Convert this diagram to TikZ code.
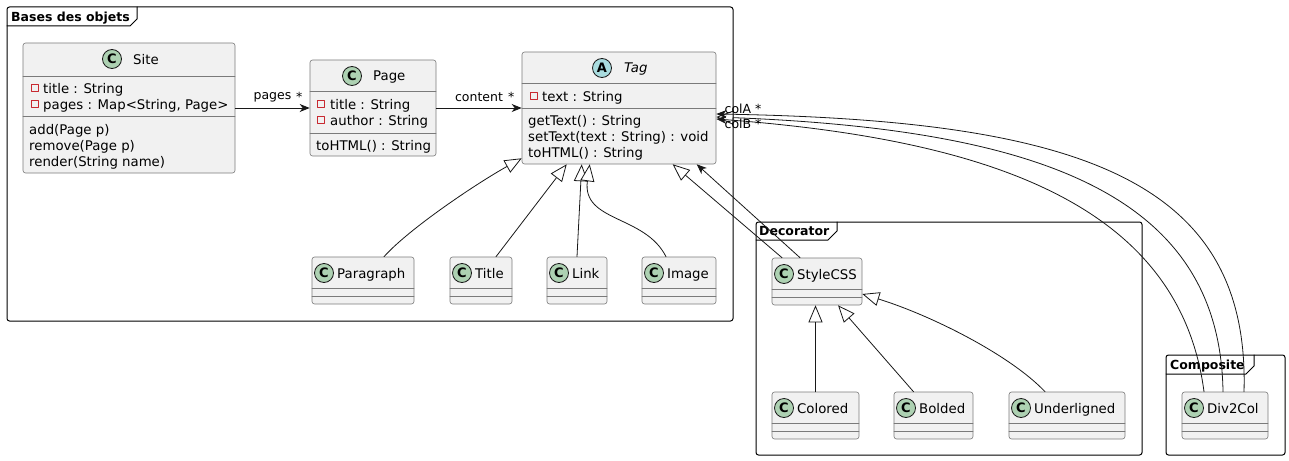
\documentclass[tikz,border=0pt]{standalone}
\usepackage{fontspec}
\setmainfont{DejaVu Sans}
\usetikzlibrary{arrows.meta,fit}
\definecolor{umlfill}{HTML}{F1F1F1}
\definecolor{umlline}{HTML}{181818}
\definecolor{umlborder}{HTML}{7A7A7A}
\definecolor{circC}{HTML}{ADD1B2}
\definecolor{circA}{HTML}{A9DCDF}
\definecolor{privred}{HTML}{C82930}
\begin{document}
\begin{tikzpicture}[x=1pt, y=-1pt, font=\fontsize{13.3}{16}\selectfont, line join=round, line cap=round,
	cls/.style={draw=umlborder, fill=umlfill, line width=0.6pt, rounded corners=2.5pt, inner sep=0pt},
	clssep/.style={draw=umlborder, line width=0.6pt},
	circ/.style={circle, draw=umlline, line width=0.8pt, fill=circC, minimum size=19pt, inner sep=0pt, font=\fontsize{13}{13}\selectfont\bfseries},
	txt/.style={anchor=base west, inner sep=0pt},
	priv/.style={draw=privred, line width=0.7pt, minimum size=7pt, inner sep=0pt},
	pkg/.style={draw=black, line width=1pt, rounded corners=2.5pt, inner sep=0pt},
	pkgname/.style={anchor=base west, inner sep=0pt, font=\fontsize{12.5}{14}\selectfont\bfseries},
	lbl/.style={inner sep=2pt, font=\fontsize{12.5}{14}\selectfont},
	assoc/.style={draw=umlline, line width=0.8pt, -{Stealth[length=10pt, width=8pt, inset=3pt]}},
	inherit/.style={draw=umlline, line width=0.8pt, -{Triangle[length=17pt, width=14pt, fill=white]}}]
	\useasboundingbox (0,0) rectangle (1289,460);
	% packages
	\node[pkg, fit={(7,7) (733,321)}] (bases) {};
	\draw[line width=1pt] (7,26) -- (130,26) -- (137,19) -- (137,7);
	\node[pkgname] (bases-n) at (11,21.5) {Bases des objets};
	\node[pkg, fit={(756,222) (1142,455)}] (deco) {};
	\draw[line width=1pt] (756,240) -- (828,240) -- (837,231) -- (837,222);
	\node[pkgname] (deco-n) at (759,235.5) {Decorator};
	\node[pkg, fit={(1166,355) (1285,455)}] (comp) {};
	\draw[line width=1pt] (1166,374) -- (1246,374) -- (1254,366) -- (1254,355);
	\node[pkgname] (comp-n) at (1170,369.5) {Composite};
	% Site
	\node[cls, fit={(23,43) (235,173)}] (site) {};
	\draw[clssep] (23,76) -- (235,76) (23,116) -- (235,116);
	\node[circ] (site-c) at (112,59) {C};
	\node[txt] (site-n) at (133,64) {Site};
	\foreach \y/\m [count=\i] in {88/title : String, 104/{pages : Map<String, Page>}}{
		\node[priv] (site-p\i) at (34.5,\y) {};
		\node[txt] (site-a\i) at (43,\y+5) {\m};
	}
	\foreach \y/\m [count=\i] in {129/add(Page p), 145/remove(Page p), 161/render(String name)}
		\node[txt] (site-m\i) at (29,\y+5) {\m};
	% Page
	\node[cls, fit={(310,60) (436,156)}] (page) {};
	\draw[clssep] (310,91) -- (436,91) (310,133) -- (436,133);
	\node[circ] (page-c) at (352,76) {C};
	\node[txt] (page-n) at (373,81) {Page};
	\foreach \y/\m [count=\i] in {104/title : String, 120/author : String}{
		\node[priv] (page-p\i) at (320.5,\y) {};
		\node[txt] (page-a\i) at (330,\y+5) {\m};
	}
	\node[txt] (page-m1) at (316,150) {toHTML() : String};
	% Tag
	\node[cls, fit={(522,52) (716,164)}] (tag) {};
	\draw[clssep] (522,83) -- (716,83) (522,108) -- (716,108);
	\node[circ, fill=circA] (tag-c) at (602,68) {A};
	\node[txt] (tag-n) at (624,73) {\itshape Tag};
	\node[priv] (tag-p1) at (533.5,96) {};
	\node[txt] (tag-a1) at (542,101) {text : String};
	\foreach \y/\m [count=\i] in {120/getText() : String, 136/setText(text : String) : void, 152/toHTML() : String}
		\node[txt] (tag-m\i) at (528,\y+5) {\m};
	% classes without members
	\foreach \n/\t/\xa/\ya/\xb in {para/Paragraph/312/257/414, title/Title/450/257/512, link/Link/547/257/607, image/Image/642/257/716,
		style/StyleCSS/772/258/862, colored/Colored/772/392/859, bolded/Bolded/894/392/973, under/Underligned/1009/392/1125, div/Div2Col/1182/392/1268}{
		\node[cls, fit={(\xa,\ya) (\xb,\ya+47)}] (\n) {};
		\draw[clssep] (\xa,\ya+31) -- (\xb,\ya+31) (\xa,\ya+39) -- (\xb,\ya+39);
		\node[circ] (\n-c) at (\xa+12,\ya+16) {C};
		\node[txt] (\n-n) at (\xa+25,\ya+21) {\t};
	}
	% links
	\draw[assoc] (site) -- node[lbl, above=4pt] {pages} node[pos=1, lbl, anchor=south east, xshift=-5pt, yshift=4pt] {*} (page);
	\draw[assoc] (page) -- node[lbl, above=4pt] {content} node[pos=1, lbl, anchor=south east, xshift=-5pt, yshift=4pt] {*} (tag);
	\draw[inherit] ([xshift=21pt]para.north) .. controls +(25,-28) and +(-45,25) .. ([yshift=6pt]tag.south west);
	\draw[inherit] ([xshift=15pt]title.north) -- ([xshift=45pt]tag.south west);
	\draw[inherit] (link.north) .. controls +(2,-40) and +(-2,40) .. ([xshift=60pt]tag.south west);
	\draw[inherit] ([xshift=-13pt]image.north) .. controls +(-21,-42) and +(-8,58) .. ([xshift=68pt]tag.south west);
	\draw[inherit] ([xshift=-35pt]style.north) -- ([xshift=151pt]tag.south west);
	\draw[assoc] ([xshift=-17pt]style.north) -- ([xshift=175pt]tag.south west);
	\draw[inherit] (colored) -- (colored |- style.south);
	\draw[inherit] ([xshift=-20pt]bolded.north) -- ([xshift=21pt]style.south);
	\draw[inherit] ([xshift=-22pt]under.north) .. controls +(-35,-37) and +(68,21) .. ([yshift=-12.5pt]style.east);
	\draw[inherit] ([xshift=-2pt]div.north) .. controls +(-3,-192) and +(334,13) .. ([yshift=-9pt]tag.east);
	\draw[assoc] ([xshift=19pt]div.north) .. controls +(6,-212) and +(364,6) .. node[pos=1, lbl, anchor=west, xshift=6pt, yshift=5pt] {colA *} ([yshift=-6pt]tag.east);
	\draw[assoc] ([xshift=-21pt]div.north) .. controls +(-24,-182) and +(284,21) .. node[pos=1, lbl, anchor=west, xshift=6pt, yshift=-5pt] {colB *} ([yshift=-11pt]tag.east);
\end{tikzpicture}
\end{document}
